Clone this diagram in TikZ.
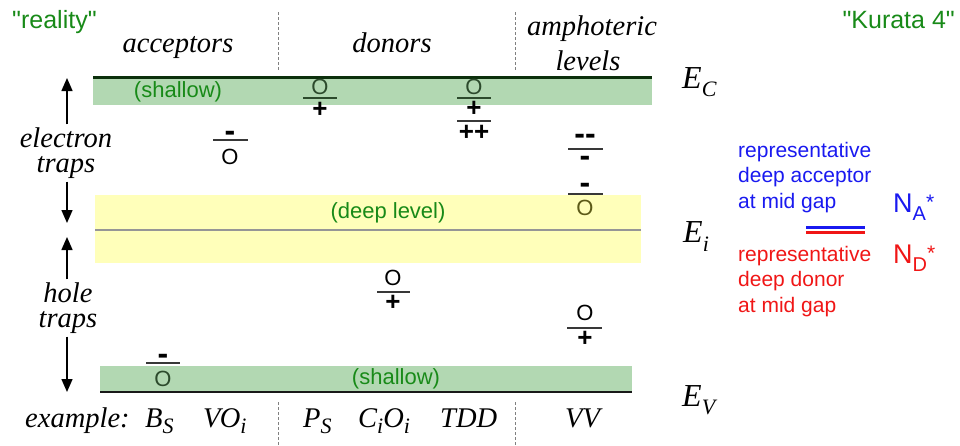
\documentclass[tikz,border=0pt]{standalone}
\usepackage{fontspec}
\setmainfont{Liberation Serif}
\setsansfont{Liberation Sans}[Ligatures=TeXOff]
\usetikzlibrary{arrows.meta}

\definecolor{bandgreen}{RGB}{178,216,178}
\definecolor{bandyellow}{RGB}{255,255,186}
\definecolor{labelgreen}{RGB}{24,138,24}
\definecolor{edgegreen}{RGB}{12,48,12}
\definecolor{ingreen}{RGB}{44,74,44}
\definecolor{inyellow}{RGB}{92,90,24}
\definecolor{midline}{RGB}{150,150,150}
\definecolor{repblue}{RGB}{25,25,240}
\definecolor{repred}{RGB}{240,22,22}

\newcommand{\sub}[2]{\raisebox{#1}{\fontsize{22}{22}\selectfont\itshape #2}}

\begin{document}
\begin{tikzpicture}[x=1pt,y=-1pt,
  serif/.style={font=\fontsize{28.5}{25}\selectfont\itshape, inner sep=0pt, anchor=base},
  energy/.style={font=\fontsize{32}{32}\selectfont\itshape, inner sep=0pt, anchor=base west},
  greentext/.style={font=\sffamily\fontsize{25}{25}\selectfont, text=labelgreen, inner sep=0pt},
  bandtext/.style={font=\sffamily\fontsize{22}{22}\selectfont, text=labelgreen, inner sep=0pt},
  reptext/.style={font=\sffamily\fontsize{21}{25.5}\selectfont, align=left, inner sep=0pt, anchor=north west},
  ostate/.style={font=\sffamily\fontsize{22}{22}\selectfont, inner sep=0pt},
  plus/.style={font=\sffamily\bfseries\fontsize{26}{26}\selectfont, inner sep=0pt},
  minus/.style={font=\sffamily\bfseries\fontsize{32}{32}\selectfont, inner sep=0pt, anchor=base},
  lvl/.style={line width=1.5pt, draw=black!78},
  lvlin/.style={line width=1.5pt, draw=ingreen},
  divider/.style={draw=black!50, line width=0.7pt, dash pattern=on 3pt off 2pt},
  trap/.style={line width=1.5pt, -{Triangle[width=11pt,length=13pt]}},
]
\useasboundingbox (0,0) rectangle (960,445);

% ---- bands ----
\fill[bandgreen] (93,77) rectangle (652,105);
\draw[edgegreen, line width=3pt] (93,77) -- (652,77);
\fill[bandyellow] (95,195) rectangle (641,263);
\draw[midline, line width=1.5pt] (95,230) -- (641,230);
\fill[bandgreen] (100,366) rectangle (632,392);
\draw[black!90, line width=2.5pt] (100,392) -- (632,392);

\node[bandtext] (shtop) at (178,92) {(shallow)};
\node[bandtext] (deep) at (388,213) {(deep level)};
\node[bandtext] (shbot) at (396,379) {(shallow)};

% ---- column dividers ----
\coordinate (d1t) at (278,12);  \coordinate (d1b) at (278,70);
\coordinate (d2t) at (515,12);  \coordinate (d2b) at (515,70);
\coordinate (d3t) at (278,402); \coordinate (d3b) at (278,445);
\coordinate (d4t) at (515,402); \coordinate (d4b) at (515,445);
\draw[divider] (d1t) -- (d1b);
\draw[divider] (d2t) -- (d2b);
\draw[divider] (d3t) -- (d3b);
\draw[divider] (d4t) -- (d4b);

% ---- headings ----
\node[greentext, anchor=base west] (reality) at (12,28) {"reality"};
\node[greentext, anchor=base east] (kurata) at (955,28) {"Kurata 4"};
\node[serif] (acc) at (178,52) {acceptors};
\node[serif] (don) at (392,52) {donors};
\node[serif] (amph1) at (592,35) {amphoteric};
\node[serif] (amph2) at (588,70) {levels};

% ---- band edges ----
\node[energy] (EC) at (682,88) {E\sub{-8pt}{C}};
\node[energy] (Ei) at (683,242) {E\sub{-9pt}{i}};
\node[energy] (EV) at (682,406) {E\sub{-8pt}{V}};

% ---- trap labels and arrows ----
\node[serif, anchor=center, align=center, inner sep=3pt] (etrap) at (66,153) {electron\\traps};
\node[serif, anchor=center, align=center, inner sep=3pt] (htrap) at (68,308) {hole\\traps};
\coordinate (tipEC) at (67,78);
\coordinate (tipEi1) at (67,223);
\coordinate (tipEi2) at (67,237);
\coordinate (tipEV) at (67,392);
\draw[trap] (etrap.north -| tipEC) -- (tipEC);
\draw[trap] (etrap.south -| tipEC) -- (tipEi1);
\draw[trap] (htrap.north -| tipEC) -- (tipEi2);
\draw[trap] (htrap.south -| tipEC) -- (tipEV);

% ---- acceptor levels ----
% VO_i
\node[minus] (voM) at (230,141) {-};
\draw[lvl] (213,140) -- (248,140);
\node[ostate] (voO) at (230,157) {O};
% B_s
\node[minus] (bsM) at (163,364) {-};
\draw[lvl] (146,363) -- (180,363);
\node[ostate, text=ingreen] (bsO) at (163,379) {O};

% ---- donor levels ----
% P_s
\node[ostate, text=ingreen] (psO) at (320,87) {O};
\draw[lvlin] (303,98) -- (337,98);
\node[plus] (psP) at (320,110) {+};
% TDD
\node[ostate, text=ingreen] (tdO) at (474,87) {O};
\draw[lvlin] (457,98) -- (491,98);
\node[plus] (tdP) at (474,109) {+};
\draw[lvl] (457,121) -- (491,121);
\node[plus] (tdPP) at (474,133) {++};
% C_iO_i
\node[ostate] (ciO) at (393,278) {O};
\draw[lvl] (377,292) -- (410,292);
\node[plus] (ciP) at (393,303) {+};

% ---- amphoteric levels (VV) ----
\node[minus] (vvMM) at (585,144) {-{}-};
\draw[lvl] (568,149) -- (603,149);
\node[minus] (vvM1) at (585,166) {-};
\node[minus] (vvM2) at (585,193) {-};
\draw[lvl] (568,194) -- (603,194);
\node[ostate, text=inyellow] (vvO1) at (585,208) {O};
\node[ostate] (vvO2) at (585,313) {O};
\draw[lvl] (567,328) -- (602,328);
\node[plus] (vvP) at (585,339) {+};

% ---- examples ----
\node[serif, anchor=base west] (ex) at (25,427) {example:};
\node[serif, anchor=base west] (exB) at (145,427) {B\sub{-6pt}{S}};
\node[serif, anchor=base west] (exVO) at (203,427) {VO\sub{-6pt}{i}};
\node[serif, anchor=base west] (exP) at (303,427) {P\sub{-6pt}{S}};
\node[serif, anchor=base west] (exC) at (358,427) {C\sub{-6pt}{i}O\sub{-6pt}{i}};
\node[serif, anchor=base west] (exT) at (440,427) {TDD};
\node[serif, anchor=base west] (exV) at (565,427) {VV};

% ---- representative mid-gap levels ----
\node[reptext, text=repblue] (repA) at (738,142) {representative\\deep acceptor\\at mid gap};
\node[reptext, text=repred] (repD) at (738,246) {representative\\deep donor\\at mid gap};
\coordinate (mgL1) at (806,227); \coordinate (mgR1) at (865,227);
\coordinate (mgL2) at (806,232); \coordinate (mgR2) at (865,232);
\draw[repblue, line width=3pt] (mgL1) -- (mgR1);
\draw[repred, line width=3pt] (mgL2) -- (mgR2);
\node[font=\sffamily\fontsize{27}{27}\selectfont, text=repblue, inner sep=0pt, anchor=base west] (NA) at (893,212)
  {N\raisebox{-8pt}{\fontsize{20}{20}\selectfont A}\raisebox{3pt}{\fontsize{21}{21}\selectfont *}};
\node[font=\sffamily\fontsize{27}{27}\selectfont, text=repred, inner sep=0pt, anchor=base west] (ND) at (893,263)
  {N\raisebox{-8pt}{\fontsize{20}{20}\selectfont D}\raisebox{3pt}{\fontsize{21}{21}\selectfont *}};
\end{tikzpicture}
\end{document}
